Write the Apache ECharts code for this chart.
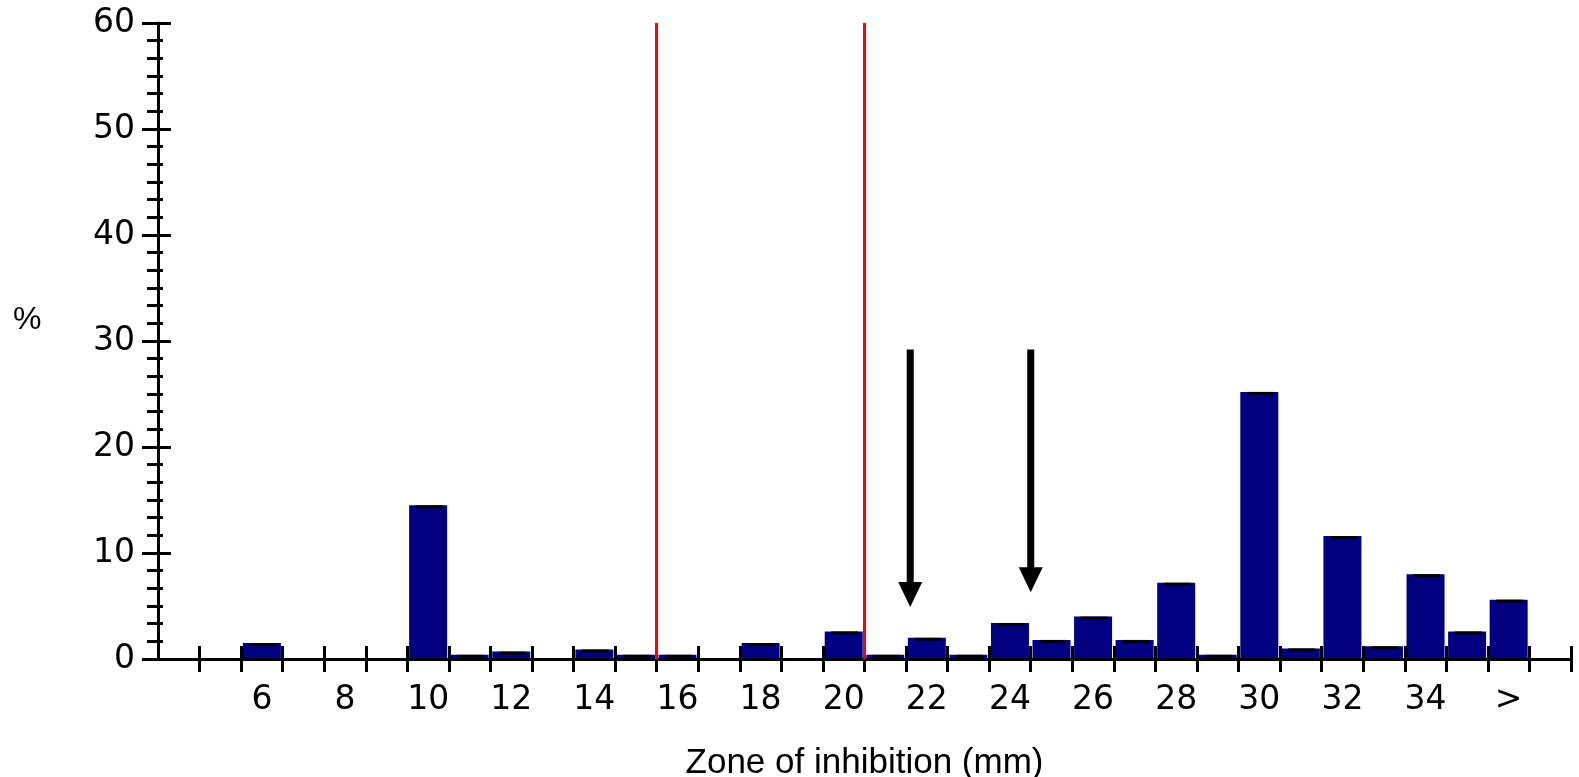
<!DOCTYPE html>
<html>
<head>
<meta charset="utf-8">
<script src="https://cdn.jsdelivr.net/npm/echarts@6/dist/echarts.min.js"></script>
<style>
html,body{margin:0;padding:0;background:#fff;}
#chart{width:1579px;height:777px;}
</style>
</head>
<body>
<div id="chart"></div>
<script>
// Bins of zone diameter (mm); '>' = above 35, last bin empty
const categories = ['4','5','6','7','8','9','10','11','12','13','14','15','16','17','18','19','20',
  '21','22','23','24','25','26','27','28','29','30','31','32','33','34','35','>',''];
// Percentage of isolates per bin
const percent = [0,0,1.5,0,0,0,14.5,0.4,0.7,0,0.9,0.4,0.4,0,1.5,0,2.6,
  0.4,2.0,0.4,3.4,1.8,4.0,1.8,7.2,0.4,25.2,1.0,11.6,1.2,8.0,2.6,5.6,0];
// Labelled bins on the x axis
const xLabelShown = ['6','8','10','12','14','16','18','20','22','24','26','28','30','32','34','>'];
// Breakpoints (mm) drawn as red vertical lines
const redLines = [15.5, 20.5];
// Arrows: [x position (mm), start %, tip %]
const arrows = [[21.6, 29.2, 4.9], [24.5, 29.2, 6.3]];
// y-axis range
const yMin = 0, yMax = 60, yStep = 10;

const TICK_FONT = 'DejaVu Sans';
const NAME_FONT = 'Liberation Sans';
const chart = echarts.init(document.getElementById('chart'), null, {renderer: 'canvas'});

const tickShown = (i) => i !== 0;

chart.setOption({
  animation: false,
  backgroundColor: '#fff',
  grid: {left: 158, right: 8, top: 23, bottom: 118, containLabel: false, outerBoundsMode: 'none'},
  xAxis: [
    {
      type: 'category', data: categories, boundaryGap: true, position: 'bottom', z: 3,
      axisLine: {show: true, lineStyle: {color: '#000', width: 3}},
      axisTick: {show: true, length: 13, interval: tickShown, lineStyle: {color: '#000', width: 3}},
      axisLabel: {
        show: true, color: '#000', fontFamily: TICK_FONT, fontSize: 33, margin: 25,
        interval: (i, v) => xLabelShown.indexOf(v) !== -1
      },
      splitLine: {show: false},
      name: 'Zone of inhibition (mm)', nameLocation: 'middle', nameGap: 87,
      nameTextStyle: {color: '#000', fontFamily: NAME_FONT, fontSize: 35}
    },
    {
      type: 'category', data: categories, boundaryGap: true, position: 'bottom', z: 3,
      axisLine: {show: false},
      axisTick: {show: true, inside: true, length: 13, interval: tickShown, lineStyle: {color: '#000', width: 3}},
      axisLabel: {show: false}, splitLine: {show: false}
    },
    {
      type: 'value', min: 3.5, max: 37.5, show: false
    }
  ],
  yAxis: [
    {
      type: 'value', min: yMin, max: yMax, interval: yStep, position: 'left', z: 3,
      axisLine: {show: true, lineStyle: {color: '#000', width: 3}},
      axisTick: {show: true, length: 16, lineStyle: {color: '#000', width: 3}},
      minorTick: {show: true, splitNumber: 6, length: 11, lineStyle: {color: '#000', width: 3}},
      axisLabel: {color: '#000', fontFamily: TICK_FONT, fontSize: 33, margin: 23, padding: [3, 0, 0, 0]},
      splitLine: {show: false}, minorSplitLine: {show: false}
    },
    {
      type: 'value', min: yMin, max: yMax, interval: yStep, position: 'left', z: 3,
      axisLine: {show: false},
      axisTick: {show: true, inside: true, length: 13, lineStyle: {color: '#000', width: 3}},
      minorTick: {show: true, splitNumber: 6, length: 5, lineStyle: {color: '#000', width: 3}},
      axisLabel: {show: false}, splitLine: {show: false}
    }
  ],
  title: {
    text: '%', left: 13, top: 304, padding: 0,
    textStyle: {color: '#000', fontFamily: NAME_FONT, fontSize: 32, fontWeight: 'normal'}
  },
  series: [
    {
      type: 'bar', xAxisIndex: 0, yAxisIndex: 0, data: percent, barWidth: 38, z: 2,
      itemStyle: {color: '#000080'}
    },
    {
      type: 'scatter', xAxisIndex: 0, yAxisIndex: 0, z: 4,
      data: percent.map(v => v > 0 ? v : '-'),
      symbol: 'rect', symbolSize: [27, 3], symbolOffset: [1, 1.5],
      itemStyle: {color: '#000', opacity: 1}, silent: true
    },
    {
      type: 'custom', xAxisIndex: 2, yAxisIndex: 0, z: 5, silent: true,
      data: arrows,
      encode: {x: 0, y: [1, 2]},
      renderItem: function (params, api) {
        const x = api.value(0);
        const p0 = api.coord([x, api.value(1)]);
        const p1 = api.coord([x, api.value(2)]);
        const headH = 25, headW = 24, shaftW = 7;
        return {
          type: 'group',
          children: [
            {type: 'rect', shape: {x: p0[0] - shaftW / 2, y: p0[1], width: shaftW, height: p1[1] - headH - p0[1] + 1}, style: {fill: '#000'}},
            {type: 'polygon', shape: {points: [[p1[0] - headW / 2, p1[1] - headH], [p1[0] + headW / 2, p1[1] - headH], [p1[0], p1[1]]]}, style: {fill: '#000'}}
          ]
        };
      },
      markLine: {
        silent: true, symbol: ['none', 'none'], label: {show: false},
        lineStyle: {color: '#ff0000', width: 3, type: 'solid'},
        data: redLines.map(v => ({xAxis: v}))
      }
    }
  ]
});
</script>
</body>
</html>
